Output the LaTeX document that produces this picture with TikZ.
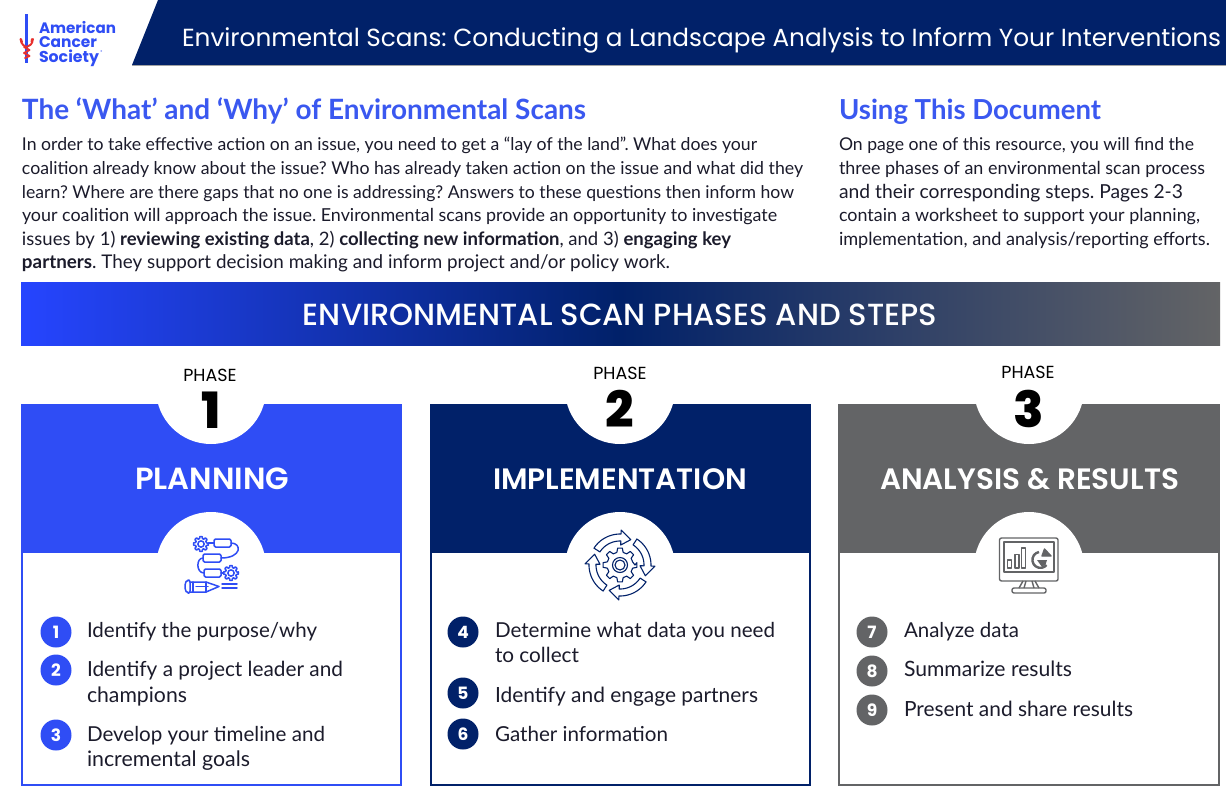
\documentclass[tikz,border=0pt]{standalone}
\usepackage{fontspec}
\usepackage{graphicx}
\setmainfont{Lato}
\frenchspacing
\newfontfamily\pop{Poppins}
\newfontfamily\popm{Poppins Medium}
\newfontfamily\pops{Poppins SemiBold}
\newfontfamily\popk{Poppins ExtraBold}
\definecolor{navy}{HTML}{012169}
\definecolor{acsblue}{HTML}{2F4DF5}
\definecolor{gradblue}{HTML}{2645FF}
\definecolor{headblue}{HTML}{3A58F0}
\definecolor{slate}{HTML}{636466}
\definecolor{ink}{HTML}{1B1B2B}
\definecolor{acsred}{HTML}{E8302E}
\pgfdeclarehorizontalshading{bannershade}{100bp}{
 color(0bp)=(gradblue); color(25bp)=(gradblue); color(50bp)=(navy); color(75bp)=(slate); color(100bp)=(slate)}
\newcommand{\txt}[7][base west]{\node[anchor=#1,inner sep=0pt,outer sep=0pt,text=#7] (#2) at (#3) {\resizebox{#4pt}{!}{#5{#6}}};}
\tikzset{
 iconline/.style={line width=1.3pt,line join=round,line cap=round},
 badgestyle/.style={circle,fill=#1,inner sep=0pt,minimum size=31pt,text=white,font=\fontsize{17}{17}\selectfont\pop\bfseries},
 phasehead/.style={anchor=base,inner sep=0pt,text=black,font=\fontsize{17.5}{17.5}\selectfont\pop},
 phasenum/.style={anchor=base,inner sep=0pt,text=black,font=\fontsize{50}{50}\selectfont\popk}
}
\newcommand{\geargl}[4]{% cx cy R colour
 \begin{scope}[shift={(#1,#2)},#4]
 \draw (0:#3) \foreach \a in {0,45,...,315} { -- (\a-9:#3) -- (\a+9:#3) -- (\a+16:#3*0.74) -- (\a+29:#3*0.74)} -- cycle;
 \draw (0,0) circle[radius=#3*0.42];
 \end{scope}}
\begin{document}
\begin{tikzpicture}[x=1pt,y=-1pt]
\useasboundingbox[fill=white] (0,0) rectangle (1226,793);
% header
\fill[navy] (158,0) -- (1226,0) -- (1226,65) -- (132,65) -- cycle;
\draw[slate!60,line width=.7pt] (132,65.3) -- (1226,65.3);
\txt{headtitle}{182,46.5}{1039}{\fontsize{27}{27}\selectfont\pop}{Environmental Scans: Conducting a Landscape Analysis to Inform Your Interventions}{white}
% logo
\draw[acsblue,line width=2.3pt] (26.5,14) -- (26.5,63);
\draw[acsred,line width=1.9pt,line cap=round,line join=round] (20.5,39) .. controls (21,45) and (25,46) .. (26.5,47) .. controls (29,46) and (32.5,45) .. (33,39);
\draw[acsred,line width=1.9pt,line cap=round] (22,42) -- (21,39) (31.5,42) -- (32,39) (24,47) -- (29.5,50) (29.5,50) -- (24,53) (24,53) -- (29.5,56) (29.5,56) -- (25,58);
\txt{logoa}{39,33}{77}{\fontsize{15}{15}\selectfont\pop\bfseries}{American}{acsblue}
\txt{logob}{39,47.5}{58}{\fontsize{15}{15}\selectfont\pop\bfseries}{Cancer}{acsblue}
\txt{logoc}{39,62}{60}{\fontsize{15}{15}\selectfont\pop\bfseries}{Society}{acsblue}
\node[inner sep=0pt,text=acsblue,font=\fontsize{4}{4}\selectfont\pop] (logor) at (101.5,52.5) {®};
% intro
\txt{whathead}{22,119}{564}{\fontsize{27}{27}\selectfont\bfseries}{The ‘What’ and ‘Why’ of Environmental Scans}{headblue}
\txt{usehead}{839,119}{262}{\fontsize{27}{27}\selectfont\bfseries}{Using This Document}{headblue}
\txt{wa}{22,150}{735}{\fontsize{20}{24}\selectfont}{In order to take effective action on an issue, you need to get a “lay of the land”. What does your}{ink}
\txt{wb}{22,174}{781}{\fontsize{20}{24}\selectfont}{coalition already know about the issue? Who has already taken action on the issue and what did they}{ink}
\txt{wc}{22,198}{772}{\fontsize{20}{24}\selectfont}{learn? Where are there gaps that no one is addressing? Answers to these questions then inform how}{ink}
\txt{wd}{22,221}{755}{\fontsize{20}{24}\selectfont}{your coalition will approach the issue. Environmental scans provide an opportunity to investigate}{ink}
\txt{we}{22,245}{709}{\fontsize{20}{24}\selectfont}{issues by 1) \textbf{reviewing existing data}, 2) \textbf{collecting new information}, and 3) \textbf{engaging key}}{ink}
\txt{wf}{22,268}{648}{\fontsize{20}{24}\selectfont}{\textbf{partners}. They support decision making and inform project and/or policy work.}{ink}
\txt{ua}{839,150}{355}{\fontsize{20}{24}\selectfont}{On page one of this resource, you will find the}{ink}
\txt{ub}{839,174}{366}{\fontsize{20}{24}\selectfont}{three phases of an environmental scan process}{ink}
\txt{uc}{839,198}{344}{\fontsize{20}{24}\selectfont}{and their corresponding steps. Pages 2-3}{ink}
\txt{ud}{839,221}{361}{\fontsize{20}{24}\selectfont}{contain a worksheet to support your planning,}{ink}
\txt{ue}{839,245}{371}{\fontsize{20}{24}\selectfont}{implementation, and analysis/reporting efforts.}{ink}
% banner
\shade[shading=bannershade] (21,282) rectangle (1220,345);
\txt[base]{bannertitle}{620,325}{634}{\fontsize{29}{29}\selectfont\popm}{ENVIRONMENTAL SCAN PHASES AND STEPS}{white}
% panels
\foreach \xa/\xb/\cx/\col in {21/402/211/acsblue,430/811/620/navy,838/1220/1029/slate}{
 \fill[\col] (\xa,404) rectangle (\xb,552);
 \draw[\col,line width=2pt,fill=white] (\xa+1,552) rectangle (\xb-1,785);
 \begin{scope}
 \clip (\xa,404) rectangle (\xb,500);
 \fill[white] (\cx,389) circle[radius=55];
 \end{scope}
 \begin{scope}
 \clip (\xa,500) rectangle (\xb,552);
 \fill[white] (\cx,567) circle[radius=55];
 \end{scope}
}
\node[phasehead] (pha) at (210,381) {PHASE};
\node[phasehead] (phb) at (620,379) {PHASE};
\node[phasehead] (phc) at (1028,378) {PHASE};
\node[phasenum] (numa) at (211,428) {1};
\node[phasenum] (numb) at (620,427) {2};
\node[phasenum] (numc) at (1029,427) {3};
\txt[base]{tplan}{212,489}{154}{\fontsize{29}{29}\selectfont\pops}{PLANNING}{white}
\txt[base]{timpl}{620,489}{254}{\fontsize{29}{29}\selectfont\pops}{IMPLEMENTATION}{white}
\txt[base]{tana}{1029.5,489}{299}{\fontsize{29}{29}\selectfont\pops}{ANALYSIS \& RESULTS}{white}
% icon 1
\begin{scope}[iconline,acsblue,line width=1.5pt]
 \geargl{201}{544}{7.5}{acsblue}
 \geargl{231}{573}{7.5}{acsblue}
 \draw[rounded corners=1.5pt] (214,539) rectangle (231,547);
 \draw[rounded corners=1.5pt] (203,554) rectangle (221,562);
 \draw[rounded corners=1.5pt] (204,569) rectangle (221,577);
 \draw (209,543) -- (214,543);
 \draw (231,543) .. controls (242,543) and (242,558) .. (221,558);
 \draw (203,558) .. controls (196,558) and (196,573) .. (204,573);
 \draw (221,573) -- (224,573);
 \draw[rounded corners=2pt] (190,580) -- (187,580) -- (185,583) -- (185,590) -- (187,593) -- (190,593) -- cycle;
 \draw (190,582) -- (206,582) -- (219,586.5) -- (206,592) -- (190,592);
 \draw (193,582) -- (193,592) (196,586.5) -- (208,586.5) (206,582) -- (206,592);
 \draw (222,584) -- (237,584) (222,588) -- (237,588);
\end{scope}
% icon 2
\begin{scope}[shift={(620,565)},navy,line width=1.1pt,line join=round]
 \foreach \r in {0,90,180,270}{
  \begin{scope}[rotate=\r]
  \draw plot[domain=213:272,samples=14,smooth] (\x:31) -- (272:35) -- (293:27.5) -- (272:20) -- (272:24) -- plot[domain=272:213,samples=14,smooth] (\x:24) -- cycle;
  \end{scope}}
 \draw (0:15) \foreach \a in {0,45,...,315} { -- (\a-8:17) -- (\a+8:17) -- (\a+14:13) -- (\a+31:13)} -- cycle;
 \draw (0,0) circle[radius=7.5] (0,0) circle[radius=5];
\end{scope}
% icon 3
\begin{scope}[slate,line width=1.4pt,line join=round]
 \draw[rounded corners=2pt] (999.5,538) rectangle (1058,581);
 \draw (1004,542) rectangle (1054,572);
 \draw (1023,581) -- (1019,588) (1035,581) -- (1039,588);
 \draw (1026,581) -- (1024,588) (1032,581) -- (1034,588);
 \draw[rounded corners=2pt] (1012,588) rectangle (1046,593);
 \draw (1007.5,560) rectangle (1011.5,568);
 \draw (1015,554.5) rectangle (1019,568);
 \draw (1021.5,548) rectangle (1025.5,568);
 \draw[line width=2.4pt] (1039,552) arc[start angle=-100,end angle=-320,radius=8];
 \fill (1037,560) -- (1047,560) .. controls (1047,563) and (1045,566) .. (1042,567) -- cycle;
 \draw[fill=slate] (1044.5,549) -- (1051,556) -- (1042,556) -- cycle;
\end{scope}
% lists
\foreach \nm/\bx/\by/\col/\lab in {ba/56/632/acsblue/1,bb/56/670/acsblue/2,bc/56/735/acsblue/3,bd/463/632/navy/4,be/463/693/navy/5,bf/463/734/navy/6,bg/872/632/slate/7,bh/872/671/slate/8,bi/872/710/slate/9}{
 \node[badgestyle=\col] (\nm) at (\bx,\by) {\lab};
}
\newcommand{\itemfont}{\fontsize{22}{26}\selectfont}
\txt{ia}{87,637}{230}{\itemfont}{Identify the purpose/why}{ink}
\txt{ib}{87,676}{256}{\itemfont}{Identify a project leader and}{ink}
\txt{ic}{87,702}{100}{\itemfont}{champions}{ink}
\txt{id}{87,741}{238}{\itemfont}{Develop your timeline and}{ink}
\txt{ie}{87,766}{163}{\itemfont}{incremental goals}{ink}
\txt{if}{495,637}{280}{\itemfont}{Determine what data you need}{ink}
\txt{ig}{495,662}{84}{\itemfont}{to collect}{ink}
\txt{ih}{495,702}{263}{\itemfont}{Identify and engage partners}{ink}
\txt{ii}{495,741}{173}{\itemfont}{Gather information}{ink}
\txt{ij}{904,637}{115}{\itemfont}{Analyze data}{ink}
\txt{ik}{904,676}{168}{\itemfont}{Summarize results}{ink}
\txt{il}{904,716}{229}{\itemfont}{Present and share results}{ink}
\end{tikzpicture}
\end{document}
